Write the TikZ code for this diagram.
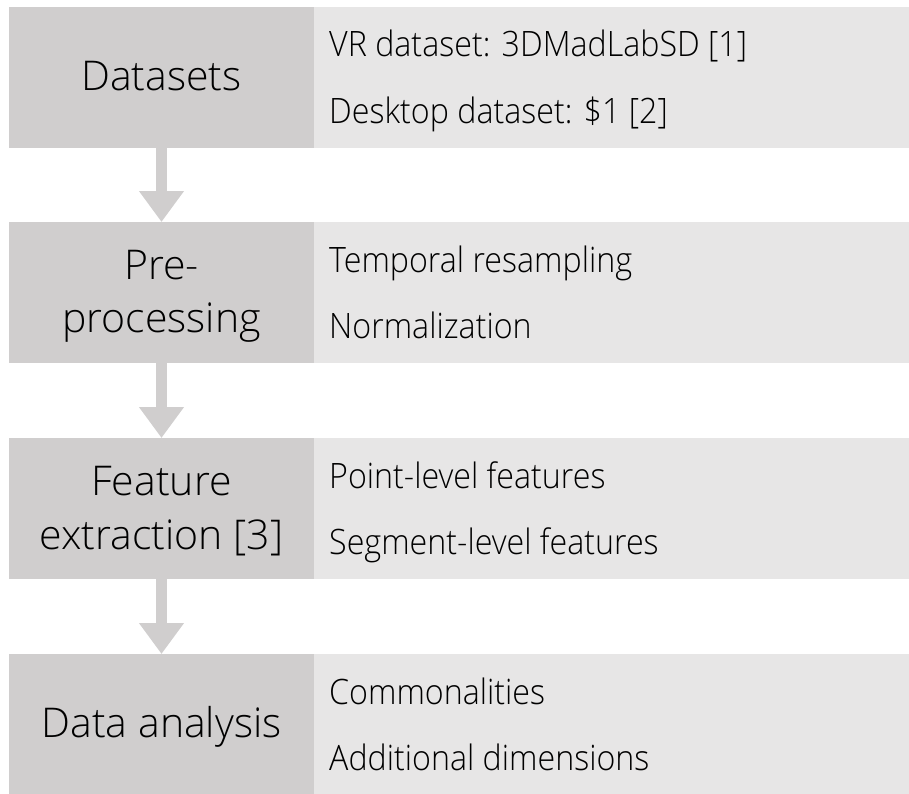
\documentclass[tikz,border=0pt]{standalone}
\usepackage{fontspec}
\setmainfont{Open Sans}[UprightFont={* Light}]
\newfontfamily\detailfont{Open Sans}[UprightFont={* Light}, FakeStretch=0.92]
\usetikzlibrary{arrows.meta}

\definecolor{stagegray}{HTML}{D0CECE}
\definecolor{detailgray}{HTML}{E7E6E6}

\tikzset{
  stagebox/.style={fill=stagegray, draw=none, anchor=north west,
    minimum width=305pt, minimum height=141pt, inner sep=0pt, outer sep=0pt},
  detailbox/.style={fill=detailgray, draw=none, anchor=north west,
    minimum width=595pt, minimum height=141pt, inner sep=0pt, outer sep=0pt},
  stagetext/.style={anchor=base, inner sep=0pt, font=\fontsize{41}{49}\selectfont},
  detailtext/.style={anchor=base west, inner sep=0pt,
    font=\detailfont\fontsize{35}{42}\selectfont},
  flow/.style={draw=stagegray, line width=10.6pt,
    -{Triangle[length=31pt, width=43pt]}}
}

\begin{document}
\begin{tikzpicture}[x=1pt, y=-1pt]
  \useasboundingbox (0,0) rectangle (909,793);

  % stage boxes (left) and detail boxes (right)
  \node[stagebox]  (s1) at (9,7)   {};
  \node[detailbox] (r1) at (314,7) {};
  \node[stagebox]  (s2) at (9,222)   {};
  \node[detailbox] (r2) at (314,222) {};
  \node[stagebox]  (s3) at (9,438)   {};
  \node[detailbox] (r3) at (314,438) {};
  \node[stagebox]  (s4) at (9,654)   {};
  \node[detailbox] (r4) at (314,654) {};

  % stage titles
  \node[stagetext] (t1)  at (161.5,90)    {Datasets};
  \node[stagetext] (t2a) at (161.5,279)   {Pre-};
  \node[stagetext] (t2b) at (161.5,332)   {processing};
  \node[stagetext] (t3a) at (161.5,495)   {Feature};
  \node[stagetext] (t3b) at (161.5,549)   {extraction [3]};
  \node[stagetext] (t4)  at (161.5,737)   {Data analysis};

  % details
  \node[detailtext] (d1a) at (329,56)  {VR dataset: 3DMadLabSD [1]};
  \node[detailtext] (d1b) at (329,123) {Desktop dataset: \$1 [2]};
  \node[detailtext] (d2a) at (329,272) {Temporal resampling};
  \node[detailtext] (d2b) at (329,338) {Normalization};
  \node[detailtext] (d3a) at (329,488) {Point-level features};
  \node[detailtext] (d3b) at (329,554) {Segment-level features};
  \node[detailtext] (d4a) at (329,704) {Commonalities};
  \node[detailtext] (d4b) at (329,770) {Additional dimensions};

  % flow arrows between stages
  \draw[flow] (s1.south) -- (s2.north);
  \draw[flow] (s2.south) -- (s3.north);
  \draw[flow] (s3.south) -- (s4.north);
\end{tikzpicture}
\end{document}
